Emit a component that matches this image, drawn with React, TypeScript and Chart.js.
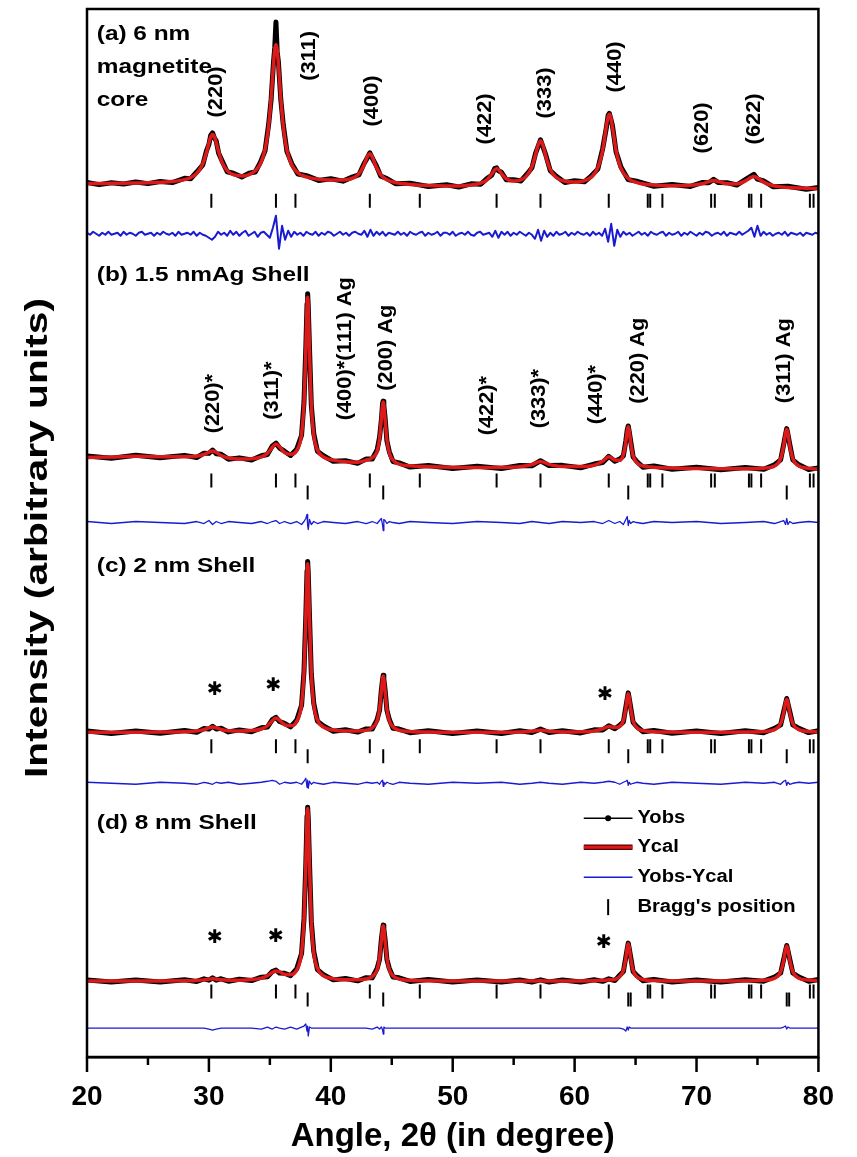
import React, { useEffect, useRef } from 'react';
import { Chart, registerables } from 'chart.js';

Chart.register(...registerables);

// ---------- axis ----------
const X_MIN = 20;
const X_MAX = 80;
const Y_MAX = 1049;
const X_TICK_STEP = 10;
const X_TITLE = 'Angle, 2θ (in degree)';
const Y_TITLE = 'Intensity (arbitrary units)';

// ---------- panel (a): 6 nm magnetite core ----------
const A_ANG = [
  20, 21, 22, 23, 24, 25, 26, 27, 28, 28.5,
  29, 29.5, 29.8, 30.0, 30.15, 30.3, 30.45, 30.6, 30.8, 31.1,
  31.5, 32, 32.7, 33.3, 33.8, 34.2, 34.6, 34.9, 35.1, 35.3,
  35.4, 35.5, 35.6, 35.7, 35.9, 36.1, 36.4, 36.8, 37.3, 38,
  39, 40, 41, 41.8, 42.3, 42.7, 43.0, 43.2, 43.4, 43.7,
  44.1, 44.6, 45.3, 46.5, 48, 49.5, 50.5, 51.5, 52.3, 52.8,
  53.2, 53.45, 53.6, 53.75, 54.0, 54.4, 55, 55.6, 56.1, 56.5,
  56.8, 57.0, 57.2, 57.4, 57.65, 58.0, 58.5, 59.2, 60, 60.8,
  61.4, 61.9, 62.3, 62.6, 62.75, 62.85, 62.95, 63.1, 63.4, 63.8,
  64.4, 65.2, 66.5, 68, 69.5, 70.5, 71.0, 71.4, 71.8, 72.5,
  73.3, 74.0, 74.4, 74.7, 75.0, 75.5, 76.3, 77.5, 79, 80,
];
const A_CAL = [
  5.3, 5.4, 5.5, 5.6, 5.8, 6.0, 6.5, 7.3, 9.2, 11.2,
  15.4, 25.1, 36.3, 45.8, 51.9, 54.4, 52.1, 46.2, 37.0, 26.1,
  18.3, 14.2, 12.9, 14.3, 18.0, 24.5, 39.0, 62.9, 90.3, 125.2,
  138.9, 144.4, 139.0, 125.3, 90.3, 62.9, 38.7, 23.9, 15.9, 11.9,
  9.6, 8.9, 8.8, 10.7, 15.0, 23.2, 32.3, 35.2, 32.0, 22.5,
  13.9, 9.0, 6.3, 4.4, 3.4, 2.9, 2.8, 3.8, 5.7, 8.9,
  14.8, 19.1, 20.2, 19.3, 15.3, 10.1, 7.8, 9.0, 13.6, 22.3,
  34.4, 43.6, 48.1, 43.6, 31.9, 19.4, 11.3, 7.6, 6.8, 8.1,
  12.0, 20.9, 38.7, 62.3, 72.3, 74.6, 72.3, 62.2, 38.5, 20.5,
  10.4, 6.0, 3.8, 3.2, 3.5, 5.2, 7.2, 8.3, 7.4, 5.0,
  4.9, 7.9, 11.0, 12.4, 10.9, 6.7, 3.1, 1.4, 0.6, 0.3,
];
const A_OBS = [
  6.5, 4.2, 6.1, 4.8, 6.9, 5.2, 7.4, 6.2, 10.5, 10.1,
  16.8, 24.0, 37.9, 44.5, 53.6, 56.0, 51.0, 47.8, 35.6, 27.5,
  17.1, 15.6, 11.8, 15.7, 16.9, 26.0, 37.8, 64.5, 88.9, 127.0,
  141.0, 167.0, 137.5, 127.0, 88.8, 64.2, 37.5, 25.2, 14.8, 13.2,
  8.4, 10.1, 7.7, 12.0, 13.9, 24.6, 31.0, 36.0, 30.8, 24.0,
  12.7, 10.3, 5.2, 5.7, 2.3, 4.1, 1.8, 5.0, 4.6, 10.2,
  13.6, 20.5, 21.0, 18.1, 16.6, 9.0, 9.1, 7.9, 14.9, 21.1,
  35.8, 42.3, 49.0, 42.2, 33.3, 18.2, 12.6, 6.4, 8.0, 7.0,
  13.3, 19.7, 40.1, 60.9, 73.5, 75.5, 70.8, 63.6, 37.2, 21.8,
  9.2, 7.3, 2.6, 4.4, 2.4, 6.4, 6.1, 9.5, 6.3, 6.2,
  3.8, 9.1, 12.2, 14.5, 9.7, 7.9, 2.0, 2.6, -0.5, 1.4,
];
// difference curve (a), sampled every 0.25 deg from 20 deg
const A_DIFF_START = 20;
const A_DIFF_STEP = 0.25;
const A_DIFF = [
  1, -1, 2, 0, -2, 1, -1, 2, -1, 0, 1, -2, 2, -1, 1, 0, -2, 1, 2, -1, 0, 1, -2, 1, -1, 2, 0, -1, 1, -2, 2, -1, 0, 1, -1, 2, -2, 1, -1,
  -2, -4, -6, -3, 2, -1,
  1, -2, 3, -1, 2, -2, 1, 3, -2, 0, 2, -3, 1, 2, -1,
  -4, 6, 18, -15, 8, -6, 3, -3,
  2, -1, 1, -2, 2, 0, -1, 2, -2, 1, -1, 2, 1, -2, 0, 2, -1, 1, -2, 1, 2, 0, -1,
  3, -3, 4, -2, 2,
  -1, 2, -2, 1, 0, -1, 2, -1, 1, -2, 2, 0, -1, 1, 2, -2, 1, -1, 0, 2, -2, 1, 1, -1, 2, -2, 0, 1, -1, 2, -1, -2, 1, 2, -1, 0, 1,
  -3, 3, -4, 2,
  -1, 2, -2, 1, -1, 2, 0, -2, 1, -1,
  -5, 4, -7, 3, -3,
  1, -2, 2, -1, 0, 2, -2, 1, -1, 2, 0, -1, 1, -2, 2, -1, 1, -2,
  5, -8, 10, -12, 4, -3,
  2, -1, 1, -2, 0, 2, -1, 1, -2, 2, 0, -1, 1, 2, -2, 1, -1, 0, 2, -2, 1, -1, 2, 0, -2, 1, -1, 2, 1, -2, 0, 1, -1, 2, -2, 1, 0, -1, 2, -1, 1, 3,
  6, -3, 8, -2,
  2, -1, 1, -2, 0, 1, -1, 2, -2, 1, 0, -1, 1, -2, 1, 0, -1, 1, 0,
];

// ---------- panels (b), (c), (d): Ag shells ----------
const BCD_ANG = [
  20, 22, 24, 26, 28, 29, 29.6, 30.0, 30.3, 30.6,
  31.0, 31.6, 32.5, 33.5, 34.3, 34.8, 35.2, 35.5, 35.8, 36.2,
  36.7, 37.2, 37.6, 37.8, 37.95, 38.05, 38.1, 38.15, 38.25, 38.4,
  38.6, 38.9, 39.4, 40.2, 41.2, 42.2, 42.9, 43.4, 43.8, 44.0,
  44.15, 44.25, 44.3, 44.35, 44.45, 44.6, 44.8, 45.1, 45.6, 46.5,
  48, 50, 52, 54, 55.5, 56.5, 57.2, 57.9, 59, 60.5,
  61.6, 62.3, 62.8, 63.3, 63.7, 64.0, 64.2, 64.32, 64.4, 64.48,
  64.6, 64.8, 65.1, 65.6, 66.5, 68, 70, 72, 74, 75.5,
  76.4, 76.9, 77.15, 77.3, 77.4, 77.5, 77.65, 77.9, 78.4, 79.2, 80,
];
const B_CAL = [
  13.1, 13.6, 14.2, 13.9, 13.9, 14.3, 16.1, 18.5, 19.6, 18.1,
  15.1, 12.6, 11.5, 11.8, 13.6, 17.2, 23.3, 26.7, 23.7, 18.2,
  16.3, 20.0, 36.6, 67.2, 121.6, 165.6, 173.6, 165.5, 121.5, 66.8,
  35.9, 20.6, 13.6, 10.4, 8.7, 8.4, 10.4, 12.8, 19.4, 32.0,
  52.3, 66.3, 68.7, 66.2, 51.9, 31.1, 17.6, 10.3, 6.5, 4.7,
  3.8, 3.2, 3.1, 3.3, 3.9, 6.0, 9.1, 6.2, 4.0, 4.0,
  5.3, 9.3, 13.7, 10.6, 10.2, 15.8, 28.6, 40.3, 43.9, 40.2,
  28.1, 14.8, 7.9, 4.6, 3.3, 2.5, 2.1, 1.9, 1.9, 2.4,
  4.6, 11.9, 24.9, 37.3, 41.3, 37.3, 24.9, 11.9, 4.5, 2.2, 1.5,
];
const B_OBS = [
  14.5, 12.4, 15.3, 12.8, 15.2, 13.1, 17.4, 17.2, 20.5, 16.9,
  16.3, 11.4, 12.7, 10.6, 14.8, 16.0, 24.6, 27.5, 22.5, 19.4,
  15.1, 21.3, 35.3, 68.6, 123.0, 167.0, 177.0, 164.0, 123.0, 65.5,
  37.2, 19.4, 14.8, 9.2, 9.9, 7.2, 11.6, 11.6, 20.7, 33.3,
  51.0, 67.6, 69.5, 65.0, 53.2, 29.9, 18.8, 9.1, 7.7, 3.5,
  5.0, 2.0, 4.3, 2.1, 5.1, 4.8, 9.8, 5.0, 5.2, 2.8,
  6.5, 8.1, 14.2, 9.4, 11.4, 14.6, 29.8, 41.0, 44.6, 39.0,
  29.3, 13.6, 9.1, 3.4, 4.5, 1.3, 3.3, 0.7, 3.1, 1.2,
  5.8, 10.7, 26.1, 36.1, 42.0, 36.1, 26.1, 10.7, 5.7, 1.0, 2.7,
];
const B_DIFF = [
  1, -1, 1, 0, -1, 1, -1, 2, -2, 1,
  -1, 1, 0, -1, 1, -1, 1, 2, -1, 1,
  -1, 1, -2, 1, 4, 8, -3, -7, 3, -2,
  1, -1, 1, 0, -1, 1, -1, 1, -1, 2,
  4, -3, -8, 3, 2, -1, 1, 0, -1, 1,
  0, -1, 1, 0, -1, 1, 0, -1, 1, 0,
  1, -1, 2, -1, 1, -2, 3, 6, -3, 2,
  -1, 1, 0, -1, 1, 0, 1, -1, 0, 1,
  -1, 1, 2, -2, 4, -2, 1, -1, 0, 1, 0,
];
const C_CAL = [
  1.0, 1.1, 1.1, 1.2, 1.6, 2.3, 3.7, 5.4, 6.2, 5.5,
  3.8, 2.6, 2.2, 2.7, 4.3, 7.4, 12.5, 15.3, 13.0, 8.7,
  7.6, 11.9, 29.3, 60.6, 116.5, 161.5, 169.8, 161.5, 116.5, 60.5,
  29.0, 13.4, 6.2, 3.3, 2.4, 2.4, 3.2, 5.4, 12.6, 24.4,
  42.6, 55.2, 57.4, 55.2, 42.6, 24.4, 12.6, 6.3, 3.1, 1.8,
  1.3, 1.1, 1.1, 1.1, 1.3, 2.0, 3.0, 2.0, 1.4, 1.6,
  2.3, 4.5, 6.9, 5.8, 6.8, 12.7, 25.0, 36.2, 39.7, 36.1,
  24.8, 12.2, 5.6, 2.8, 1.6, 1.2, 1.1, 1.1, 1.3, 1.8,
  3.7, 9.7, 20.5, 30.7, 34.0, 30.7, 20.5, 9.7, 3.7, 1.9, 1.4,
];
const C_OBS = [
  2.2, -0.1, 2.3, 0.0, 2.8, 1.1, 4.9, 4.2, 7.0, 4.3,
  5.0, 1.4, 3.4, 1.5, 5.5, 6.2, 13.7, 16.0, 11.8, 9.9,
  6.4, 13.1, 28.1, 61.8, 117.7, 162.7, 172.0, 160.3, 117.7, 59.3,
  30.2, 12.2, 7.4, 2.1, 3.6, 1.2, 4.4, 4.2, 13.8, 23.2,
  43.8, 54.0, 58.0, 54.0, 43.8, 23.2, 13.8, 5.1, 4.3, 0.6,
  2.5, -0.1, 2.3, -0.1, 2.5, 0.8, 4.2, 0.8, 2.6, 0.4,
  3.5, 3.3, 7.6, 4.6, 8.0, 11.5, 26.2, 35.0, 40.5, 34.9,
  26.0, 11.0, 6.8, 1.6, 2.8, 0.0, 2.3, -0.1, 2.5, 0.6,
  4.9, 8.5, 21.7, 29.5, 34.8, 29.5, 21.7, 8.5, 4.9, 0.7, 2.6,
];
const C_DIFF = [
  1, 0, -1, 1, 0, -1, 1, 0, -1, 1,
  0, 1, -1, 0, 1, 2, 3, 2, -1, 1,
  0, 1, -1, 2, 5, -4, 3, -5, 2, -1,
  1, 0, -1, 1, 0, -1, 1, 0, 1, -1,
  2, 3, -3, 1, -1, 1, 0, -1, 1, 0,
  -1, 1, 0, 1, -1, 0, 1, 0, -1, 1,
  0, 1, 2, 1, -1, 1, 2, 3, -2, 1,
  -1, 0, 1, 0, -1, 1, 0, -1, 1, 0,
  1, -1, 2, 3, -2, 1, -1, 0, 1, 0, 1,
];
const D_CAL = [
  1.0, 1.0, 1.1, 1.1, 1.3, 1.6, 2.2, 2.9, 3.2, 2.9,
  2.3, 1.9, 1.9, 2.5, 3.9, 6.3, 9.6, 11.2, 10.2, 7.8,
  7.4, 12.0, 29.8, 62.0, 119.1, 165.3, 173.8, 165.3, 119.1, 61.9,
  29.6, 13.7, 6.3, 3.4, 2.4, 2.4, 3.2, 5.4, 12.4, 24.0,
  41.9, 54.3, 56.4, 54.3, 41.9, 24.0, 12.4, 6.2, 3.1, 1.8,
  1.3, 1.1, 1.0, 1.0, 1.0, 1.1, 1.2, 1.1, 1.0, 1.1,
  1.4, 1.7, 2.2, 2.5, 5.6, 11.7, 23.8, 34.8, 38.3, 34.8,
  23.8, 11.7, 5.4, 2.6, 1.5, 1.1, 1.0, 1.1, 1.3, 1.9,
  3.9, 10.3, 21.7, 32.5, 36.0, 32.5, 21.7, 10.3, 3.9, 2.0, 1.4,
];
const D_OBS = [
  2.0, 0.0, 2.1, 0.0, 2.3, 0.6, 3.2, 1.9, 4.2, 1.9,
  3.3, 0.9, 2.9, 1.5, 4.9, 5.3, 10.6, 12.0, 9.0, 8.8,
  6.4, 13.2, 28.6, 63.2, 117.9, 166.5, 175.0, 164.1, 120.3, 60.7,
  30.8, 12.5, 7.5, 2.2, 3.6, 1.2, 4.4, 4.2, 13.6, 22.8,
  43.1, 53.1, 57.0, 53.1, 43.1, 22.8, 13.6, 5.0, 4.3, 0.6,
  2.5, 0.1, 2.0, 0.0, 2.0, 0.1, 2.2, 0.1, 2.0, 0.1,
  2.4, 0.7, 3.2, 1.5, 6.8, 10.5, 25.0, 33.6, 39.0, 33.6,
  25.0, 10.5, 6.6, 1.4, 2.7, 0.1, 2.0, 0.1, 2.3, 0.9,
  5.1, 9.1, 22.9, 31.3, 36.6, 31.3, 22.9, 9.1, 5.1, 0.8, 2.6,
];
const D_DIFF = [
  0, 0, 0, 0, 0, 0, 0, -1, -2, -1,
  0, 0, 0, 0, -1, 1, -1, 1, 0, -1,
  1, -1, 1, 2, 4, -3, 2, -8, 1, 0,
  0, 0, 0, 0, 0, 0, 0, -1, 1, -1,
  1, -2, -6, 1, 0, 0, 0, 0, 0, 0,
  0, 0, 0, 0, 0, 0, 0, 0, 0, 0,
  0, 0, 0, 0, 0, -1, -3, 1, -2, 1,
  0, 0, 0, 0, 0, 0, 0, 0, 0, 0,
  0, 0, 1, 2, -1, 1, 0, 0, 0, 0, 0,
];

// ---------- Bragg positions (deg) ----------
const MAG_BRAGG = [30.2, 35.5, 37.1, 43.2, 47.3, 53.6, 57.2, 62.8, 66.0, 66.2, 67.2, 71.2, 71.5, 74.3, 74.5, 75.3, 79.3, 79.6];
const AG_BRAGG = [38.1, 44.3, 64.4, 77.4];
const AG_BRAGG_D = [38.1, 44.3, 64.4, 64.6, 77.4, 77.6];

// ---------- vertical stacking offsets (arbitrary units) ----------
const OFFSET_CAL = [869, 587, 324, 75];
const OFFSET_DIFF = [824, 535, 274, 29];
const OFFSET_MAG = [857, 577, 311, 65.5];
const OFFSET_AG = [0, 565, 301, 57.5];

// ---------- annotations ----------
const TITLE_TEXT = ['(a) 6 nm', 'magnetite', 'core', '(b) 1.5 nmAg Shell', '(c) 2 nm Shell', '(d) 8 nm Shell'];
const TITLE_Y = [1018, 985, 952, 777, 485, 228];
const TITLE_X = 20.8;

const HKL_TEXT = [
  '(220)', '(311)', '(400)', '(422)', '(333)', '(440)', '(620)', '(622)',
  '(220)*', '(311)*', '(400)*(111) Ag', '(200) Ag', '(422)*', '(333)*', '(440)*', '(220) Ag', '(311) Ag',
];
const HKL_X = [30.6, 38.2, 43.4, 52.7, 57.6, 63.3, 70.5, 74.75, 30.35, 35.23, 41.2, 44.58, 52.81, 57.13, 61.77, 65.2, 77.2];
const HKL_Y = [966, 1002, 957, 939, 965, 991, 930, 939, 654, 667, 709, 710, 652, 659, 663, 697, 697];

const STAR_X = [30.5, 35.3, 62.5, 30.5, 35.5, 62.4];
const STAR_Y = [367, 371, 362, 119, 120, 114];

const LEGEND_TEXT = ['Yobs', 'Ycal', 'Yobs-Ycal', "Bragg's position"];
const LEGEND_Y = [239, 210, 180, 150];
const LEGEND_X = [60.75, 64.75, 65.15];

// ---------- styles ----------
const RED = '#dc1a1a';
const BLUE = '#1a1ad2';
const FONT = '"Liberation Sans", Arial, Helvetica, sans-serif';

function pts(xs: number[], ys: number[], off: number) {
  return xs.map((x, i) => ({ x, y: ys[i] + off }));
}
function bragg(xs: number[], off: number) {
  return xs.map((x) => ({ x, y: off }));
}

function buildDatasets() {
  const ds: any[] = [];
  const line = (data: any[], color: string, width: number, order: number, smooth: boolean) => ({
    data,
    borderColor: color,
    backgroundColor: color,
    borderWidth: width,
    borderJoinStyle: 'round',
    borderCapStyle: 'round',
    pointRadius: 0,
    fill: false,
    order,
    cubicInterpolationMode: smooth ? 'monotone' : 'default',
    tension: 0,
  });
  const tick = (data: any[]) => ({
    data,
    showLine: false,
    pointStyle: 'line',
    pointRadius: 7,
    pointRotation: 90,
    pointBorderWidth: 2,
    pointBorderColor: '#000',
    pointBackgroundColor: '#000',
    borderColor: '#000',
    order: 3,
  });
  const panels = [
    { ang: A_ANG, cal: A_CAL, obs: A_OBS },
    { ang: BCD_ANG, cal: B_CAL, obs: B_OBS },
    { ang: BCD_ANG, cal: C_CAL, obs: C_OBS },
    { ang: BCD_ANG, cal: D_CAL, obs: D_OBS },
  ];
  const diffs = [
    A_DIFF.map((v, i) => ({ x: A_DIFF_START + i * A_DIFF_STEP, y: v + OFFSET_DIFF[0] })),
    pts(BCD_ANG, B_DIFF, OFFSET_DIFF[1]),
    pts(BCD_ANG, C_DIFF, OFFSET_DIFF[2]),
    pts(BCD_ANG, D_DIFF, OFFSET_DIFF[3]),
  ];
  panels.forEach((p, k) => {
    ds.push(line(pts(p.ang, p.cal, OFFSET_CAL[k]), RED, 3.5, 1, true));
    ds.push(line(pts(p.ang, p.obs, OFFSET_CAL[k]), '#000', 5, 2, false));
    ds.push(line(diffs[k], BLUE, k === 0 ? 2 : 1.3, 3, false));
    ds.push(tick(bragg(MAG_BRAGG, OFFSET_MAG[k])));
    if (k > 0) ds.push(tick(bragg(k === 3 ? AG_BRAGG_D : AG_BRAGG, OFFSET_AG[k])));
  });
  return ds;
}

function drawText(ctx: CanvasRenderingContext2D, text: string, x: number, y: number, size: number,
  stretch: number, rot: number, align: CanvasTextAlign, baseline: CanvasTextBaseline, font = FONT) {
  ctx.save();
  ctx.translate(x, y);
  if (rot) ctx.rotate(rot);
  ctx.scale(stretch, 1);
  ctx.font = `bold ${size}px ${font}`;
  ctx.textAlign = align;
  ctx.textBaseline = baseline;
  ctx.fillStyle = '#000';
  ctx.fillText(text, 0, 0);
  ctx.restore();
}

const decorPlugin = {
  id: 'decor',
  afterDraw(chart: any) {
    const { ctx, chartArea: ca, scales } = chart;
    const xs = scales.x;
    const ys = scales.y;
    ctx.save();
    // frame
    ctx.strokeStyle = '#000';
    ctx.lineWidth = 2.5;
    ctx.strokeRect(ca.left, ca.top, ca.right - ca.left, ca.bottom - ca.top);
    // x tick marks (major + minor), outward
    ctx.lineWidth = 2.5;
    for (let v = X_MIN; v <= X_MAX; v += X_TICK_STEP / 2) {
      const px = xs.getPixelForValue(v);
      const len = v % X_TICK_STEP === 0 ? 15 : 8;
      ctx.beginPath();
      ctx.moveTo(px, ca.bottom);
      ctx.lineTo(px, ca.bottom + len);
      ctx.stroke();
    }
    // panel titles
    TITLE_TEXT.forEach((t, i) => {
      drawText(ctx, t, xs.getPixelForValue(TITLE_X), ys.getPixelForValue(TITLE_Y[i]), 20, 1.22, 0, 'left', 'alphabetic');
    });
    // hkl labels
    HKL_TEXT.forEach((t, i) => {
      drawText(ctx, t, xs.getPixelForValue(HKL_X[i]), ys.getPixelForValue(HKL_Y[i]), 21, 1.04, -Math.PI / 2, 'center', 'middle');
    });
    // asterisks
    STAR_X.forEach((sx, i) => {
      drawText(ctx, '✱', xs.getPixelForValue(sx), ys.getPixelForValue(STAR_Y[i]), 19, 1, 0, 'center', 'middle', '"DejaVu Sans", sans-serif');
    });
    // legend
    const lx0 = xs.getPixelForValue(LEGEND_X[0]);
    const lx1 = xs.getPixelForValue(LEGEND_X[1]);
    const tx = xs.getPixelForValue(LEGEND_X[2]);
    const ly = LEGEND_Y.map((v) => ys.getPixelForValue(v));
    ctx.strokeStyle = '#000';
    ctx.lineWidth = 1.5;
    ctx.beginPath(); ctx.moveTo(lx0, ly[0]); ctx.lineTo(lx1, ly[0]); ctx.stroke();
    ctx.fillStyle = '#000';
    ctx.beginPath(); ctx.arc((lx0 + lx1) / 2, ly[0], 3, 0, Math.PI * 2); ctx.fill();
    ctx.lineWidth = 5.5; ctx.strokeStyle = '#5a0000';
    ctx.beginPath(); ctx.moveTo(lx0, ly[1]); ctx.lineTo(lx1, ly[1]); ctx.stroke();
    ctx.lineWidth = 3; ctx.strokeStyle = RED;
    ctx.beginPath(); ctx.moveTo(lx0, ly[1]); ctx.lineTo(lx1, ly[1]); ctx.stroke();
    ctx.lineWidth = 1.5; ctx.strokeStyle = BLUE;
    ctx.beginPath(); ctx.moveTo(lx0, ly[2]); ctx.lineTo(lx1, ly[2]); ctx.stroke();
    ctx.lineWidth = 2; ctx.strokeStyle = '#000';
    const bx = (lx0 + lx1) / 2;
    ctx.beginPath(); ctx.moveTo(bx, ly[3] - 8); ctx.lineTo(bx, ly[3] + 8); ctx.stroke();
    LEGEND_TEXT.forEach((t, i) => drawText(ctx, t, tx, ly[i], 18, 1.12, 0, 'left', 'middle'));
    // y title
    ctx.font = `bold 31px ${FONT}`;
    const w = ctx.measureText(Y_TITLE).width;
    drawText(ctx, Y_TITLE, 38, 538, 31, 480 / w, -Math.PI / 2, 'center', 'middle');
    ctx.restore();
  },
};

export default function App() {
  const ref = useRef<HTMLCanvasElement | null>(null);
  useEffect(() => {
    if (!ref.current) return;
    const chart = new Chart(ref.current, {
      type: 'line',
      data: { datasets: buildDatasets() },
      options: {
        responsive: false,
        animation: false,
        devicePixelRatio: 1,
        events: [],
        layout: { padding: { left: 87, right: 19, top: 8, bottom: 0 } },
        plugins: { legend: { display: false }, tooltip: { enabled: false } },
        scales: {
          x: {
            type: 'linear',
            min: X_MIN,
            max: X_MAX,
            afterFit: (s: any) => { s.height = 100; },
            ticks: {
              stepSize: X_TICK_STEP,
              color: '#000',
              font: { family: FONT, size: 28, weight: 'bold' },
              padding: 23,
              maxRotation: 0,
              autoSkip: false,
            },
            grid: { display: false, drawTicks: false },
            border: { display: true, color: '#000', width: 2.5 },
            title: {
              display: true,
              text: X_TITLE,
              color: '#000',
              font: { family: FONT, size: 33, weight: 'bold' },
              padding: { top: 0, bottom: 0 },
            },
          },
          y: { type: 'linear', min: 0, max: Y_MAX, display: false },
        },
      },
      plugins: [decorPlugin],
    } as any);
    return () => chart.destroy();
  }, []);
  return (
    <div style={{ position: 'absolute', left: 0, top: 0, width: 857, height: 1157, background: '#fff' }}>
      <canvas ref={ref} width={857} height={1157} />
    </div>
  );
}
